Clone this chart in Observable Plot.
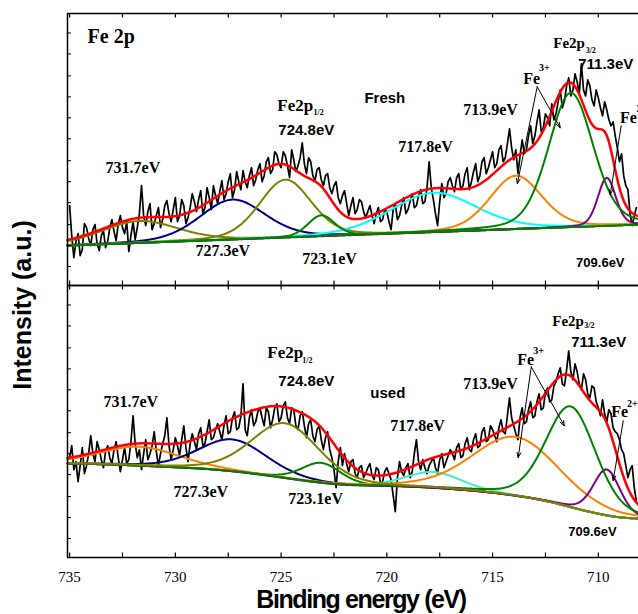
<!DOCTYPE html>
<html>
<head>
<meta charset="utf-8">
<script src="https://cdn.jsdelivr.net/npm/d3@7"></script>
<script src="https://cdn.jsdelivr.net/npm/@observablehq/plot@0.6"></script>
<style>
  html, body { margin: 0; padding: 0; background: #fff; }
  #chart { width: 638px; height: 614px; overflow: hidden; }
</style>
</head>
<body>
<div id="chart"></div>
<script>
// Fe 2p XPS spectra of the fresh and the used catalyst, with fitted components.

const panels = ["Fresh", "used"];

// Measured spectra, one value every 0.1 eV from 735.0 eV down to 708.2 eV
const energyStart = 735.0;
const energyStep = 0.1;
const freshCounts = [
  80, 50, 28, 44, 52, 30, 36, 62, 58, 47,
  40, 56, 61, 42, 35, 50, 55, 38, 44, 58,
  66, 54, 45, 62, 70, 58, 52, 64, 34, 50,
  64, 46, 58, 72, 100, 70, 60, 74, 82, 56,
  62, 70, 78, 58, 66, 80, 85, 72, 64, 76,
  88, 64, 70, 86, 80, 62, 68, 78, 92, 84,
  74, 86, 95, 72, 78, 98, 88, 76, 100, 90,
  82, 94, 105, 86, 92, 104, 112, 88, 96, 114,
  104, 96, 115, 104, 98, 110, 118, 100, 106, 116,
  122, 104, 110, 124, 128, 112, 116, 134, 131, 122,
  118, 134, 130, 120, 108, 136, 126, 114, 120, 128,
  143, 122, 112, 128, 124, 110, 105, 116, 118, 106,
  100, 110, 112, 98, 92, 100, 104, 88, 82, 90,
  95, 82, 70, 80, 88, 72, 76, 86, 84, 74,
  68, 74, 80, 70, 62, 72, 78, 64, 66, 76,
  74, 64, 56, 76, 82, 66, 70, 80, 88, 72,
  76, 84, 92, 78, 80, 90, 96, 82, 84, 98,
  124, 98, 86, 72, 60, 84, 102, 88, 92, 104,
  108, 100, 94, 108, 112, 96, 100, 112, 118, 96,
  104, 114, 122, 104, 110, 124, 128, 112, 118, 126,
  134, 118, 122, 136, 140, 124, 128, 142, 157, 138,
  126, 136, 112, 130, 146, 132, 136, 150, 160, 142,
  150, 164, 176, 154, 158, 172, 168, 160, 182, 166,
  172, 184, 196, 178, 185, 200, 208, 190, 196, 212,
  204, 192, 222, 196, 190, 206, 200, 186, 180, 196,
  188, 178, 170, 184, 176, 166, 160, 164, 150, 138,
  124, 132, 110, 100, 96, 72, 60, 70, 78
];
const usedCounts = [
  100, 112, 88, 96, 76, 92, 110, 84, 92, 104,
  122, 104, 96, 116, 108, 98, 90, 106, 112, 100,
  94, 108, 116, 100, 86, 98, 110, 94, 98, 116,
  142, 114, 100, 108, 88, 104, 118, 98, 104, 112,
  126, 106, 92, 104, 114, 122, 140, 112, 98, 108,
  120, 112, 102, 118, 132, 110, 96, 114, 124, 116,
  108, 124, 130, 112, 114, 126, 138, 118, 120, 128,
  134, 126, 118, 132, 142, 124, 126, 140, 146, 128,
  130, 142, 174, 128, 122, 140, 148, 132, 136, 146,
  150, 140, 132, 150, 146, 130, 138, 150, 154, 136,
  140, 152, 156, 140, 134, 150, 148, 132, 128, 142,
  146, 132, 120, 134, 138, 122, 116, 128, 132, 118,
  108, 120, 126, 108, 100, 88, 70, 96, 110, 92,
  104, 94, 86, 96, 98, 84, 80, 90, 92, 80,
  84, 90, 94, 82, 78, 90, 88, 74, 76, 86,
  90, 84, 78, 62, 46, 80, 96, 86, 82, 90,
  94, 80, 86, 104, 118, 96, 88, 98, 90, 84,
  92, 96, 100, 90, 84, 98, 104, 90, 96, 102,
  108, 104, 98, 110, 114, 100, 102, 114, 120, 108,
  106, 118, 124, 110, 112, 126, 130, 116, 118, 132,
  128, 122, 116, 130, 138, 126, 124, 142, 160, 140,
  132, 124, 118, 140, 150, 134, 136, 148, 156, 140,
  142, 156, 164, 148, 150, 166, 170, 156, 158, 172,
  176, 184, 190, 174, 172, 188, 207, 186, 178, 194,
  186, 174, 168, 184, 178, 164, 160, 172, 170, 156,
  150, 142, 158, 144, 136, 148, 144, 130, 126, 124,
  118, 108, 104, 92, 80, 88, 92, 70, 56
];

// Fitted peaks: centres (eV), heights and full widths at half maximum (eV)
const peakCenters = [731.7, 727.3, 724.8, 723.1, 717.8, 713.9, 711.3, 709.6];
const freshHeights = [22, 40, 58, 21, 39.5, 53.5, 134.5, 48];
const freshFwhm = [4.3, 3.65, 2.9, 1.5, 4.8, 2.9, 2.5, 1.0];
const usedHeights = [19, 32, 55, 20, 16, 59, 101, 46];
const usedFwhm = [4.5, 3.8, 3.8, 2.2, 3.1, 4.85, 2.8, 1.5];
const lorentzFraction = 0.25;

// Backgrounds: linear under the fresh spectrum, Shirley step under the used one
const freshBackground = {low: 61, slope: -21 / 27, step: 0};
const usedBackground = {low: 39, slope: 0, step: 55};

const freshColors = ["#808000", "#000080", "#808000", "#008000", "#00ffff", "#ff8000", "#008000", "#800080"];
const usedColors = ["#ff8000", "#000080", "#808000", "#008000", "#40f0c0", "#ff8000", "#008000", "#800080"];
const freshOrder = [0, 1, 2, 4, 5, 7, 3, 6];
const usedOrder = [0, 1, 3, 4, 5, 7, 6, 2];

const xTicks = [735, 730, 725, 720, 715, 710];
const xMinorTicks = [735, 732.5, 730, 727.5, 725, 722.5, 720, 717.5, 715, 712.5, 710];
const yTicks = [19, 40, 61, 83, 104, 125, 147, 168, 189, 210, 232, 253];

const E_LEFT = 735.1, E_RIGHT = 708.1;
const PANEL_TOP = 272.5;

// measured points
const measured = [
  ...freshCounts.map((v, i) => ({panel: "Fresh", energy: +(energyStart - i * energyStep).toFixed(1), value: v})),
  ...usedCounts.map((v, i) => ({panel: "used", energy: +(energyStart - i * energyStep).toFixed(1), value: v}))
];

// fit curves evaluated on a fine energy grid
const fineStep = 0.05;
const fineEnergies = d3.range(0, Math.round((E_LEFT - E_RIGHT) / fineStep) + 1).map(i => E_RIGHT + i * fineStep);

function profile(e, c, h, w) {
  const t = (e - c) / w;
  return h * ((1 - lorentzFraction) * Math.exp(-4 * Math.LN2 * t * t) + lorentzFraction / (1 + 4 * t * t));
}

function fitCurves(panel, heights, fwhm, bg, colors, order) {
  const peaks = fineEnergies.map(e => peakCenters.map((c, k) => profile(e, c, heights[k], fwhm[k])));
  const sums = peaks.map(p => d3.sum(p));
  const cum = Array.from(d3.cumsum(sums));
  const total = cum[cum.length - 1];
  const background = fineEnergies.map((e, i) => bg.low + bg.slope * (e - E_RIGHT) + bg.step * cum[i] / total);
  const components = [];
  for (const k of order) {
    fineEnergies.forEach((e, i) => components.push({panel, k: panel + k, color: colors[k], energy: e, value: background[i] + peaks[i][k]}));
  }
  const envelope = fineEnergies.map((e, i) => ({panel, energy: e, value: background[i] + sums[i]}));
  return {components, envelope};
}

const freshFit = fitCurves("Fresh", freshHeights, freshFwhm, freshBackground, freshColors, freshOrder);
const usedFit = fitCurves("used", usedHeights, usedFwhm, usedBackground, usedColors, usedOrder);
const components = [...freshFit.components, ...usedFit.components];
const envelopes = [...freshFit.envelope, ...usedFit.envelope];

// peak annotations
const labels = [
  {panel: "Fresh", energy: 734.15, level: 249.5, text: "Fe 2p", serif: true, size: 20},
  {panel: "Fresh", energy: 733.3, level: 117.5, text: "731.7eV", serif: true, size: 16},
  {panel: "Fresh", energy: 729.05, level: 35, text: "727.3eV", serif: true, size: 16},
  {panel: "Fresh", energy: 725.18, level: 180, text: "Fe2p", serif: true, size: 17},
  {panel: "Fresh", energy: 723.47, level: 173, text: "1/2", serif: true, size: 8},
  {panel: "Fresh", energy: 725.13, level: 156, text: "724.8eV", serif: false, size: 15},
  {panel: "Fresh", energy: 724.0, level: 27, text: "723.1eV", serif: true, size: 16},
  {panel: "Fresh", energy: 721.06, level: 188, text: "Fresh", serif: false, size: 15},
  {panel: "Fresh", energy: 719.46, level: 139, text: "717.8eV", serif: true, size: 16},
  {panel: "Fresh", energy: 716.39, level: 176, text: "713.9eV", serif: true, size: 16},
  {panel: "Fresh", energy: 713.55, level: 207, text: "Fe", serif: true, size: 16},
  {panel: "Fresh", energy: 712.8, level: 218, text: "3+", serif: true, size: 10},
  {panel: "Fresh", energy: 712.13, level: 243, text: "Fe2p", serif: true, size: 15},
  {panel: "Fresh", energy: 710.6, level: 235, text: "3/2", serif: true, size: 8},
  {panel: "Fresh", energy: 710.95, level: 222, text: "711.3eV", serif: false, size: 15},
  {panel: "Fresh", energy: 708.97, level: 168, text: "Fe", serif: true, size: 16},
  {panel: "Fresh", energy: 708.2, level: 177, text: "2+", serif: true, size: 10},
  {panel: "Fresh", energy: 711.05, level: 23, text: "709.6eV", serif: false, size: 13},
  {panel: "used", energy: 733.4, level: 156, text: "731.7eV", serif: true, size: 16},
  {panel: "used", energy: 730.09, level: 66, text: "727.3eV", serif: true, size: 16},
  {panel: "used", energy: 725.65, level: 205, text: "Fe2p", serif: true, size: 17},
  {panel: "used", energy: 724.0, level: 197, text: "1/2", serif: true, size: 8},
  {panel: "used", energy: 725.13, level: 177, text: "724.8eV", serif: false, size: 15},
  {panel: "used", energy: 724.66, level: 59, text: "723.1eV", serif: true, size: 16},
  {panel: "used", energy: 720.78, level: 165, text: "used", serif: false, size: 15},
  {panel: "used", energy: 719.84, level: 132, text: "717.8eV", serif: true, size: 16},
  {panel: "used", energy: 716.39, level: 174, text: "713.9eV", serif: true, size: 16},
  {panel: "used", energy: 713.83, level: 198, text: "Fe", serif: true, size: 16},
  {panel: "used", energy: 713.08, level: 207, text: "3+", serif: true, size: 10},
  {panel: "used", energy: 712.18, level: 237, text: "Fe2p", serif: true, size: 15},
  {panel: "used", energy: 710.66, level: 232, text: "3/2", serif: true, size: 8},
  {panel: "used", energy: 711.28, level: 216, text: "711.3eV", serif: false, size: 15},
  {panel: "used", energy: 709.39, level: 146, text: "Fe", serif: true, size: 16},
  {panel: "used", energy: 708.64, level: 154, text: "2+", serif: true, size: 10},
  {panel: "used", energy: 711.42, level: 26, text: "709.6eV", serif: false, size: 13}
];

const arrows = [
  {panel: "Fresh", x1: 712.89, y1: 199, x2: 713.83, y2: 102},
  {panel: "Fresh", x1: 712.89, y1: 199, x2: 711.8, y2: 158},
  {panel: "Fresh", x1: 708.92, y1: 160, x2: 709.44, y2: 91},
  {panel: "used", x1: 713.17, y1: 191, x2: 713.79, y2: 100},
  {panel: "used", x1: 713.17, y1: 191, x2: 711.61, y2: 132},
  {panel: "used", x1: 708.82, y1: 137, x2: 709.3, y2: 77}
];

const serifFont = "'Liberation Serif', 'Times New Roman', serif";
const sansFont = "'Liberation Sans', Arial, sans-serif";

const chart = Plot.plot({
  width: 638,
  height: 614,
  marginLeft: 67,
  marginRight: 0,
  marginTop: 12,
  marginBottom: 57,
  style: {fontFamily: serifFont, fontSize: "15px", background: "#fff", color: "#000"},
  x: {domain: [E_LEFT, E_RIGHT], axis: null},
  y: {domain: [0, PANEL_TOP], axis: null},
  fy: {domain: panels, axis: null, padding: 0},
  marks: [
    Plot.line(measured, {x: "energy", y: "value", fy: "panel", stroke: "#000", strokeWidth: 1.7, strokeLinejoin: "round"}),
    Plot.line(components, {x: "energy", y: "value", fy: "panel", z: "k", stroke: "color", strokeWidth: 2}),
    Plot.line(envelopes, {x: "energy", y: "value", fy: "panel", stroke: "#ff0000", strokeWidth: 2.5}),
    Plot.arrow(arrows, {x1: "x1", y1: "y1", x2: "x2", y2: "y2", fy: "panel", stroke: "#000", strokeWidth: 1, headLength: 8, headAngle: 40}),
    Plot.text(labels.filter(d => d.serif), {x: "energy", y: "level", fy: "panel", text: "text", fontSize: "size",
      textAnchor: "start", fontFamily: serifFont, fontWeight: "bold", fill: "#000"}),
    Plot.text(labels.filter(d => !d.serif), {x: "energy", y: "level", fy: "panel", text: "text", fontSize: "size",
      textAnchor: "start", fontFamily: sansFont, fontWeight: "bold", fill: "#000"}),
    // panel frames and inward ticks
    Plot.ruleY([0, PANEL_TOP], {stroke: "#000", strokeWidth: 1.5}),
    Plot.ruleX([E_LEFT], {stroke: "#000", strokeWidth: 1.5}),
    Plot.tickX(xMinorTicks, {x: d => d, insetTop: PANEL_TOP - 5, stroke: "#000", strokeWidth: 1.2}),
    Plot.tickX(xMinorTicks, {x: d => d, insetBottom: PANEL_TOP - 5, stroke: "#000", strokeWidth: 1.2}),
    Plot.tickY(yTicks, {y: d => d, insetRight: 638 - 67 - 4, stroke: "#000", strokeWidth: 1}),
    // energy tick labels under the lower panel
    Plot.text(xTicks, {x: d => d, fy: xTicks.map(() => "used"), frameAnchor: "bottom", text: d => String(d), dy: 20,
      textAnchor: "middle", lineAnchor: "middle", fontFamily: serifFont, fontSize: 15, fill: "#000"}),
    Plot.text([{panel: "used"}], {fy: "panel", frameAnchor: "bottom", text: () => "Binding energy (eV)", dx: 8, dy: 42,
      textAnchor: "middle", lineAnchor: "middle", fontFamily: sansFont, fontWeight: "bold", fontSize: 25, fill: "#000"}),
    Plot.text([{panel: "used"}], {fy: "panel", frameAnchor: "left", y: 253, text: () => "Intensity (a.u.)", rotate: -90, dx: -44.5,
      textAnchor: "middle", lineAnchor: "middle", fontFamily: sansFont, fontWeight: "bold", fontSize: 25, fill: "#000"})
  ]
});

document.getElementById("chart").appendChild(chart);

// tight tracking for the energy axis title
d3.select(chart).selectAll("text")
  .filter(function () { return this.textContent === "Binding energy (eV)"; })
  .attr("letter-spacing", "-1.4px");
</script>
</body>
</html>
